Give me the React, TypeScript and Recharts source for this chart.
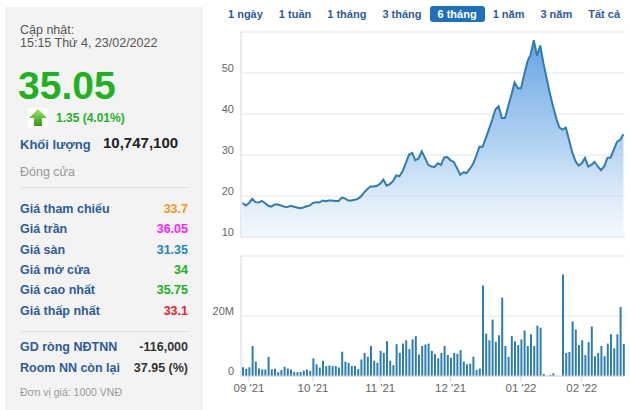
import React from 'react';
import { AreaChart, Area, BarChart, Bar, XAxis, YAxis, CartesianGrid, ReferenceLine } from 'recharts';

// daily close, 30/08/2021 -> 23/02/2022 (trading days)
const prices = [
  18.3, 17.7, 18.3, 19.3, 18.5, 18.4, 18.8, 18.3, 17.6, 17.4,
  17.9, 17.9, 17.7, 17.4, 17.3, 17.6, 17.4, 17.2, 17.0, 17.2,
  17.5, 17.7, 18.3, 18.5, 18.4, 18.9, 18.7, 18.9, 18.9, 18.8,
  18.8, 19.6, 19.4, 18.9, 18.9, 19.1, 19.3, 19.9, 20.9, 21.7,
  22.3, 22.3, 22.5, 23.0, 24.0, 22.5, 22.9, 23.6, 25.0, 24.8,
  26.0, 28.0, 30.1, 30.5, 28.7, 29.2, 30.9, 29.3, 27.6, 27.2,
  27.1, 28.0, 27.6, 29.4, 29.5, 28.7, 28.3, 26.8, 25.2, 25.8,
  25.6, 26.6, 27.8, 29.7, 32.0, 32.0, 34.1, 36.3, 38.6, 41.1,
  41.9, 39.0, 39.0, 41.9, 44.7, 47.7, 46.3, 46.3, 49.6, 52.8,
  54.5, 58.0, 54.2, 56.7, 52.4, 48.8, 45.1, 41.9, 39.0, 36.7,
  36.2, 36.7, 33.7, 30.7, 28.5, 27.4, 28.0, 29.3, 27.2, 27.6,
  28.3, 27.2, 26.3, 27.2, 29.3, 29.4, 31.3, 33.2, 33.7, 35.05,
];

// daily volume, millions of shares
const volumes = [
  2.9, 2.4, 2.9, 10, 4.8, 2.5, 2.2, 2.2, 6.4, 2.2,
  2.4, 1.3, 2.0, 3.1, 2.5, 2.2, 1.4, 1.3, 1.3, 1.8,
  2.2, 1.7, 5.9, 3.9, 2.8, 5.1, 3.3, 3.5, 3.3, 3.3,
  2.8, 8.1, 4.8, 4.4, 3.3, 3.3, 2.3, 5.5, 7.7, 6.4,
  10, 5.1, 4.4, 8.4, 7.7, 11.6, 5.1, 3.6, 10.6, 7.7,
  10.8, 11.9, 9.0, 12.2, 13.3, 7.2, 10, 10.5, 10.8, 8.4,
  7.3, 5.9, 7.7, 10, 7.0, 6.1, 7.7, 7.4, 8.6, 4.8,
  3.9, 4.1, 6.4, 2.0, 2.5, 30.2, 14.1, 11.9, 18.8, 11.4,
  13.6, 26.1, 10, 6.4, 13.3, 11.6, 10.3, 12.2, 15.2, 10,
  13.9, 10, 16.8, 16.1, 0.7, 0, 0.3, 0.9, 0, 0,
  33.8, 7.7, 8.0, 18.2, 15.5, 10.3, 11.9, 7.0, 11.3, 16.5,
  6.6, 7.7, 10, 6.6, 10.8, 13.9, 9.2, 13.9, 23, 10.7,
];

const monthTicks = [2, 22, 43, 65, 87, 106];
const monthLabels = ["09 '21", "10 '21", "11 '21", "12 '21", "01 '22", "02 '22"];
const priceTicks = [10, 20, 30, 40, 50];
const volumeTicks = [0, 20000000];

const ranges = ['1 ngày', '1 tuần', '1 tháng', '3 tháng', '6 tháng', '1 năm', '3 năm', 'Tất cả'];
const activeRange = '6 tháng';

const priceLabels = ['Giá tham chiếu', 'Giá trần', 'Giá sàn', 'Giá mở cửa', 'Giá cao nhất', 'Giá thấp nhất'];
const priceValues = ['33.7', '36.05', '31.35', '34', '35.75', '33.1'];
const foreignLabels = ['GD ròng NĐTNN', 'Room NN còn lại'];
const foreignValues = ['-116,000', '37.95 (%)'];

const rows = prices.map((p, i) => ({ i, price: p, volume: volumes[i] * 1000000 }));

const FONT = '"Liberation Sans", Arial, Helvetica, sans-serif';
const AXIS = '#ccd6eb';
const valueColors = ['#f7941d', '#ff22ff', '#1f86c2', '#15b515', '#15b515', '#e8212f'];

const PriceTick = (props: any) => (
  <text x={24} y={props.y - 5} textAnchor="end" dominantBaseline="central" fill="#666" fontSize={11} fontFamily={FONT}>
    {props.payload.value}
  </text>
);

const VolumeTick = (props: any) => (
  <text x={24} y={props.y - 5.5} textAnchor="end" dominantBaseline="central" fill="#666" fontSize={11} fontFamily={FONT}>
    {props.payload.value === 0 ? '0' : props.payload.value / 1000000 + 'M'}
  </text>
);

function UpArrow() {
  return (
    <svg width={20} height={20} style={{ position: 'absolute', left: 28, top: 108 }}>
      <defs>
        <linearGradient id="arr" x1="0" y1="0" x2="0" y2="1">
          <stop offset="0" stopColor="#9be36b" />
          <stop offset="1" stopColor="#2f9a12" />
        </linearGradient>
      </defs>
      <rect x={0} y={0} width={20} height={20} fill="#fff" />
      <polygon points="10,1 19,10 14,10 14,18 6,18 6,10 1,10" fill="url(#arr)" />
    </svg>
  );
}

export default function App() {
  const abs = (left: number, top: number, extra: React.CSSProperties = {}): React.CSSProperties => ({
    position: 'absolute', left, top, whiteSpace: 'nowrap', ...extra,
  });
  const label: React.CSSProperties = { fontSize: 12.5, fontWeight: 'bold', color: '#2d5b9f', lineHeight: '16px' };

  return (
    <div style={{ position: 'absolute', left: 0, top: 0, width: 630, height: 410, background: '#fff', fontFamily: FONT, overflow: 'hidden' }}>
      {/* left info panel */}
      <div style={{ position: 'absolute', left: 5, top: 7, width: 198, height: 410, background: '#f3f3f3' }} />
      <div style={abs(20, 22, { fontSize: 12.5, color: '#555', lineHeight: '16px' })}>Cập nhật:</div>
      <div style={abs(20, 35, { fontSize: 12.5, color: '#555', lineHeight: '16px' })}>15:15 Thứ 4, 23/02/2022</div>
      <div style={abs(18, 64, { fontSize: 39, fontWeight: 'bold', color: '#1eb31e', lineHeight: '44px' })}>35.05</div>
      <UpArrow />
      <div style={abs(56, 110, { fontSize: 12, fontWeight: 'bold', color: '#1eb31e', lineHeight: '16px' })}>1.35 (4.01%)</div>
      <div style={abs(20, 136, { fontSize: 13, fontWeight: 'bold', color: '#2d5b9f', lineHeight: '18px' })}>Khối lượng</div>
      <div style={abs(103, 134, { fontSize: 15, fontWeight: 'bold', color: '#222', lineHeight: '18px' })}>10,747,100</div>
      <div style={abs(20, 164, { fontSize: 12.5, color: '#999', lineHeight: '16px' })}>Đóng cửa</div>
      <div style={{ position: 'absolute', left: 20, top: 187, width: 170, height: 1, background: '#e2e2e2' }} />
      {priceLabels.map((t, k) => (
        <React.Fragment key={t}>
          <div style={{ ...abs(20, 201 + k * 20.3), ...label }}>{t}</div>
          <div style={{ ...abs(0, 201 + k * 20.3), ...label, left: 'auto', right: 442, color: valueColors[k] }}>{priceValues[k]}</div>
        </React.Fragment>
      ))}
      <div style={{ position: 'absolute', left: 20, top: 331, width: 170, height: 1, background: '#e2e2e2' }} />
      {foreignLabels.map((t, k) => (
        <React.Fragment key={t}>
          <div style={{ ...abs(20, 339 + k * 21), ...label }}>{t}</div>
          <div style={{ ...abs(0, 339 + k * 21), ...label, left: 'auto', right: 442, color: '#333' }}>{foreignValues[k]}</div>
        </React.Fragment>
      ))}
      <div style={abs(20, 385, { fontSize: 10.5, color: '#999', lineHeight: '14px' })}>Đơn vị giá: 1000 VNĐ</div>

      {/* range tabs */}
      <div style={{ position: 'absolute', left: 220, top: 6, display: 'flex' }}>
        {ranges.map((r) => (
          <div key={r} style={{
            padding: '0 8px', height: 16, lineHeight: '16px', fontSize: 11, fontWeight: 'bold', borderRadius: 3,
            color: r === activeRange ? '#fff' : '#2d5b9f', background: r === activeRange ? '#1f6fbf' : 'transparent',
          }}>{r}</div>
        ))}
      </div>

      {/* price */}
      <div style={{ position: 'absolute', left: 210, top: 25 }}>
        <AreaChart width={420} height={220} data={rows} margin={{ top: 7, right: 5, bottom: 8, left: 0 }}>
          <defs>
            <linearGradient id="pg" x1="0" y1="0" x2="0" y2="1">
              <stop offset="0" stopColor="#5c9ee0" stopOpacity={0.95} />
              <stop offset="0.55" stopColor="#9cc6ee" stopOpacity={0.75} />
              <stop offset="1" stopColor="#e8f1fb" stopOpacity={0.5} />
            </linearGradient>
          </defs>
          <CartesianGrid vertical={false} stroke="#e6e6e6" />
          <XAxis dataKey="i" type="number" domain={[-0.5, 119.5]} hide />
          <YAxis domain={[10, 60]} ticks={priceTicks} interval={0} width={31} tick={<PriceTick />} tickLine={false} axisLine={{ stroke: AXIS }} />
          <ReferenceLine y={60} stroke="#ededed" />
          <ReferenceLine y={10} stroke="#e6e6e6" />
          <Area type="linear" dataKey="price" stroke="#2f7bb4" strokeWidth={2} fill="url(#pg)" fillOpacity={1} dot={false} activeDot={false} isAnimationActive={false} />
        </AreaChart>
      </div>

      {/* volume */}
      <div style={{ position: 'absolute', left: 210, top: 250 }}>
        <BarChart width={420} height={160} data={rows} margin={{ top: 6, right: 5, bottom: 10, left: 0 }}>
          <CartesianGrid vertical={false} stroke="#e6e6e6" />
          <XAxis dataKey="i" type="number" domain={[-0.5, 119.5]} ticks={monthTicks} height={24}
            tickFormatter={(v: number) => monthLabels[monthTicks.indexOf(v)] ?? ''}
            tick={{ fill: '#666', fontSize: 11.5, fontFamily: FONT }} tickSize={6} tickMargin={2}
            tickLine={{ stroke: AXIS }} axisLine={{ stroke: AXIS }} interval={0} />
          <YAxis domain={[0, 40000000]} ticks={volumeTicks} interval={0} width={31} tick={<VolumeTick />} tickLine={false} axisLine={{ stroke: AXIS }} />
          <ReferenceLine y={40000000} stroke="#ededed" />
          <Bar dataKey="volume" fill="#2d7fb3" barSize={2} isAnimationActive={false} />
        </BarChart>
      </div>
    </div>
  );
}
